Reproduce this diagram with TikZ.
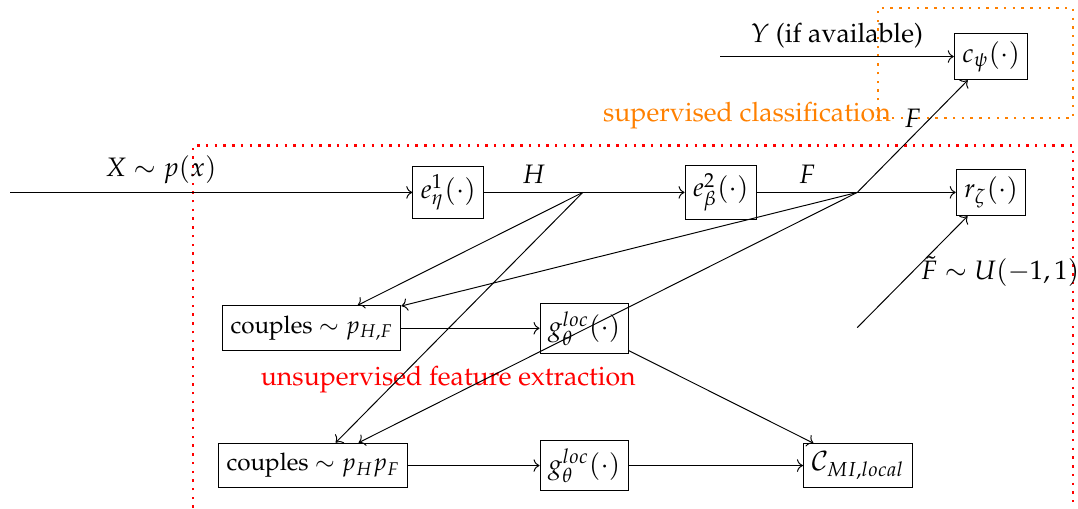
\documentclass[tikz,border=0pt]{standalone}
\usepackage[T1]{fontenc}
\usepackage{mathpazo}
\usetikzlibrary{arrows.meta}

\begin{document}
\begin{tikzpicture}[
      font=\fontsize{11}{13.6}\selectfont,
      blk/.style={draw, rectangle, inner sep=3.3pt},
      cplbox/.style={blk, font=\normalsize, inner ysep=4.2pt},
      arr/.style={->},
      region/.style={line width=1pt, dash pattern=on 1pt off 2.6pt}
    ]
    \useasboundingbox (0,0) rectangle (15.63,7.37);

    % dotted regions
    \draw[region, red]    (2.80,-0.5) rectangle (15.56,5.26);
    \draw[region, orange] (12.73,5.66) rectangle (15.56,7.25);
    \node[text=red]    (unsup) at (6.50,1.86) {unsupervised feature extraction};
    \node[text=orange] (sup)   at (10.83,5.70) {supervised classification};

    % blocks
    \node[blk] (e1)   at (6.50,4.58)  {$e^1_\eta(\cdot)$};
    \node[blk] (e2)   at (10.45,4.58) {$e^2_\beta(\cdot)$};
    \node[blk] (r)    at (14.37,4.58) {$r_\zeta(\cdot)$};
    \node[blk] (c)    at (14.37,6.55) {$c_\psi(\cdot)$};
    \node[cplbox] (cpl1) at (4.52,2.61)  {couples $\sim p_{H,F}$};
    \node[cplbox] (cpl2) at (4.54,0.62)  {couples $\sim p_H p_F$};
    \node[blk] (g1)   at (8.47,2.61)  {$g^{loc}_\theta(\cdot)$};
    \node[blk] (g2)   at (8.47,0.62)  {$g^{loc}_\theta(\cdot)$};
    \node[blk] (mi)   at (12.44,0.62) {$\mathcal{C}_{MI,local}$};

    % free ends and branch points
    \coordinate (xin)  at (0.145,4.58);
    \coordinate (xmid) at (4.52,4.58);
    \coordinate (hj)   at (8.45,4.58);
    \coordinate (fj)   at (12.43,4.58);
    \coordinate (yin)  at (10.44,6.55);
    \coordinate (ftin) at (12.43,2.62);

    % main chain
    \draw (xin) -- node[above]{$X\sim p(x)$} (xmid);
    \draw[arr] (xmid) -- (e1);
    \draw (e1) -- node[above]{$H$} (hj);
    \draw[arr] (hj) -- (e2);
    \draw (e2) -- node[above]{$F$} (fj);
    \draw[arr] (fj) -- (r);
    \draw[arr] (fj) -- node[above]{$F$} (c);
    \draw[arr] (yin) -- node[above]{$Y$ (if available)} (c);
    \draw[arr] (ftin) -- node[right]{$\tilde{F}\sim U(-1,1)$} (r);

    % couples
    \draw[arr] (hj) -- (cpl1);
    \draw[arr] (hj) -- (cpl2);
    \draw[arr] (fj) -- (cpl1);
    \draw[arr] (fj) -- (cpl2);
    \draw[arr] (cpl1) -- (g1);
    \draw[arr] (cpl2) -- (g2);
    \draw[arr] (g1) -- (mi);
    \draw[arr] (g2) -- (mi);
  \end{tikzpicture}
\end{document}
